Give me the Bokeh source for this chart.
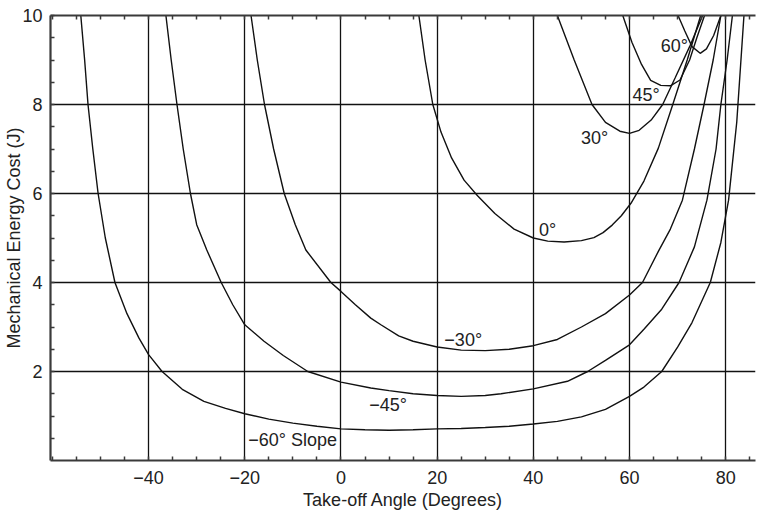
from bokeh.plotting import figure
from bokeh.models import Range1d, FixedTicker, LinearAxis, ColumnDataSource, CustomLabelingPolicy
from bokeh.core.properties import value
from bokeh.embed import file_html
from bokeh.resources import INLINE

# ---- data ----
x_major = [-40, -20, 0, 20, 40, 60, 80]
x_minor = [-60, -55, -50, -45, -35, -30, -25, -15, -10, -5, 5, 10, 15, 25, 30, 35, 45, 50, 55, 65, 70, 75, 85]
y_major = [2, 4, 6, 8, 10]
y_minor = [0.5, 1, 1.5, 2.5, 3, 3.5, 4.5, 5, 5.5, 6.5, 7, 7.5, 8.5, 9, 9.5]

m60_x = [-54.1, -53.3, -52.6, -51.6, -50.5, -49.0, -47.0, -44.5, -42.0, -40.0, -37.2, -33.0, -28.5, -24.0, -20.0,
         -15.0, -10.0, -5.0, 0.0, 5.0, 10.0, 15.0, 20.0, 25.0, 30.0, 35.0, 40.0, 45.0, 50.0, 55.0, 60.0, 63.0,
         66.7, 70.0, 73.0, 76.8, 79.0, 80.6, 82.3, 83.8]
m60_y = [10.0, 9.0, 8.0, 7.0, 6.0, 5.0, 4.0, 3.3, 2.75, 2.38, 2.0, 1.6, 1.33, 1.17, 1.05,
         0.93, 0.84, 0.77, 0.71, 0.69, 0.68, 0.69, 0.71, 0.72, 0.74, 0.77, 0.82, 0.88, 0.98, 1.15, 1.44, 1.65,
         2.0, 2.55, 3.1, 4.0, 4.9, 5.85, 7.6, 10.0]

m45_x = [-36.4, -35.3, -34.1, -32.8, -31.3, -30.0, -27.9, -24.9, -22.5, -20.0, -16.0, -12.0, -6.9, 0.0, 6.2, 10.0,
         15.0, 20.0, 25.0, 30.0, 33.3, 40.0, 47.1, 51.3, 55.0, 60.0, 63.0, 66.7, 70.3, 73.5, 76.1, 78.0, 79.0,
         80.3, 81.4]
m45_y = [10.0, 9.0, 8.0, 7.0, 6.0, 5.3, 4.73, 4.0, 3.5, 3.05, 2.68, 2.36, 2.0, 1.76, 1.63, 1.57,
         1.5, 1.46, 1.44, 1.46, 1.5, 1.61, 1.78, 2.0, 2.25, 2.6, 2.95, 3.4, 4.0, 4.8, 5.85, 7.0, 8.0,
         9.0, 10.0]

m30_x = [-18.7, -17.4, -15.9, -14.0, -11.8, -9.5, -7.3, -2.1, 0.0, 3.0, 6.2, 8.3, 12.0, 15.0, 20.0, 25.0, 30.0,
         35.0, 40.0, 45.0, 50.0, 55.0, 60.0, 62.7, 66.0, 68.5, 71.0, 73.5, 75.5, 77.4, 79.0]
m30_y = [10.0, 9.0, 8.0, 7.0, 6.0, 5.3, 4.73, 4.0, 3.8, 3.5, 3.2, 3.05, 2.8, 2.68, 2.55, 2.48, 2.47,
         2.5, 2.58, 2.72, 3.0, 3.3, 3.72, 4.0, 4.7, 5.2, 5.85, 7.0, 8.0, 9.0, 10.0]

s0_x = [16.2, 17.5, 19.1, 20.8, 23.0, 25.6, 28.4, 32.0, 36.0, 40.0, 43.0, 46.4, 50.0, 52.6, 54.5, 56.4, 58.3,
        60.3, 63.0, 66.0, 69.0, 72.0, 74.8]
s0_y = [10.0, 9.0, 8.0, 7.38, 6.8, 6.3, 5.95, 5.55, 5.2, 5.0, 4.93, 4.91, 4.94, 5.01, 5.12, 5.29, 5.5,
        5.78, 6.28, 7.02, 8.0, 9.0, 10.0]

s30_x = [45.0, 48.5, 52.2, 55.0, 58.0, 60.0, 62.0, 64.5, 66.9, 69.5, 72.5, 75.2]
s30_y = [10.0, 9.0, 8.0, 7.6, 7.4, 7.35, 7.42, 7.65, 8.0, 8.6, 9.3, 10.0]

s45_x = [58.6, 60.5, 62.5, 64.4, 66.5, 68.5, 70.5, 72.5, 74.0, 75.6]
s45_y = [10.0, 9.4, 8.9, 8.54, 8.43, 8.42, 8.55, 9.0, 9.5, 10.0]

s60_x = [70.1, 71.5, 73.0, 74.7, 76.0, 77.5, 79.0]
s60_y = [10.0, 9.65, 9.3, 9.15, 9.25, 9.55, 10.0]

label_text = ["\u221260\u00b0 Slope", "\u221245\u00b0", "\u221230\u00b0", "0\u00b0", "30\u00b0", "45\u00b0", "60\u00b0"]
label_x = [-19.3, 5.9, 21.5, 41.2, 49.9, 60.6, 66.5]
label_y = [0.47, 1.24, 2.71, 5.17, 7.25, 8.22, 9.31]

x_tick_labels = ["\u221240", "\u221220", "0", "20", "40", "60", "80"]
y_tick_labels = ["2", "4", "6", "8", "10"]

FONT = "Liberation Sans"
INK = "#111111"
AXIS = "#3a3a3a"

p = figure(width=768, height=514, x_range=Range1d(-60.4, 86.2), y_range=Range1d(0, 10),
           output_backend="svg", toolbar_location=None,
           min_border_left=50, min_border_right=13, min_border_top=15, min_border_bottom=54)
p.outline_line_color = None
p.background_fill_color = "white"
p.border_fill_color = "white"

# grid
p.xgrid.ticker = FixedTicker(ticks=x_major)
p.ygrid.ticker = FixedTicker(ticks=y_major)
for g in (p.xgrid, p.ygrid):
    g.grid_line_color = INK
    g.grid_line_width = 1.3
    g.grid_line_alpha = 1.0

def style_axis(ax, ticker):
    ax.ticker = ticker
    ax.axis_line_color = AXIS
    ax.axis_line_width = 2.2
    ax.major_tick_in = 4
    ax.major_tick_out = 0
    ax.minor_tick_in = 4
    ax.minor_tick_out = 0
    ax.major_tick_line_color = AXIS
    ax.minor_tick_line_color = AXIS
    ax.major_tick_line_width = 1.5
    ax.minor_tick_line_width = 1.5
    ax.major_label_text_font = FONT
    ax.major_label_text_font_size = "18px"
    ax.major_label_text_color = "#222222"
    ax.axis_label_text_font = FONT
    ax.axis_label_text_font_size = "18px"
    ax.axis_label_text_font_style = "normal"
    ax.axis_label_text_color = "#222222"

xt = FixedTicker(ticks=x_major, minor_ticks=x_minor)
yt = FixedTicker(ticks=y_major, minor_ticks=y_minor)
style_axis(p.xaxis[0], xt)
style_axis(p.yaxis[0], yt)
p.xaxis[0].major_label_overrides = dict(zip(x_major, x_tick_labels))
p.yaxis[0].major_label_overrides = dict(zip(y_major, y_tick_labels))
p.xaxis[0].axis_label = "Take-off Angle (Degrees)"
p.yaxis[0].axis_label = "Mechanical Energy Cost (J)"
p.xaxis[0].major_label_standoff = 10
p.xaxis[0].axis_label_standoff = 3
p.yaxis[0].major_label_standoff = 8
p.yaxis[0].axis_label_standoff = -5

top = LinearAxis()
style_axis(top, FixedTicker(ticks=x_major, minor_ticks=x_minor))
top.major_label_text_font_size = "1px"
top.major_label_standoff = 0
top.major_label_policy = CustomLabelingPolicy(
    code="for (const i of Array.from(indices)) { indices.unset(i) } return indices")
p.add_layout(top, "above")

# curves
for xs, ys in [(m60_x, m60_y), (m45_x, m45_y), (m30_x, m30_y), (s0_x, s0_y),
               (s30_x, s30_y), (s45_x, s45_y), (s60_x, s60_y)]:
    p.line(xs, ys, line_color=INK, line_width=1.4)

src = ColumnDataSource(dict(x=label_x, y=label_y, t=label_text))
p.text(x="x", y="y", text="t", source=src, text_font=value(FONT), text_font_size="18px",
       text_align="left", text_baseline="middle", text_color="#222222")

open("out.html", "w").write(file_html(p, INLINE))
